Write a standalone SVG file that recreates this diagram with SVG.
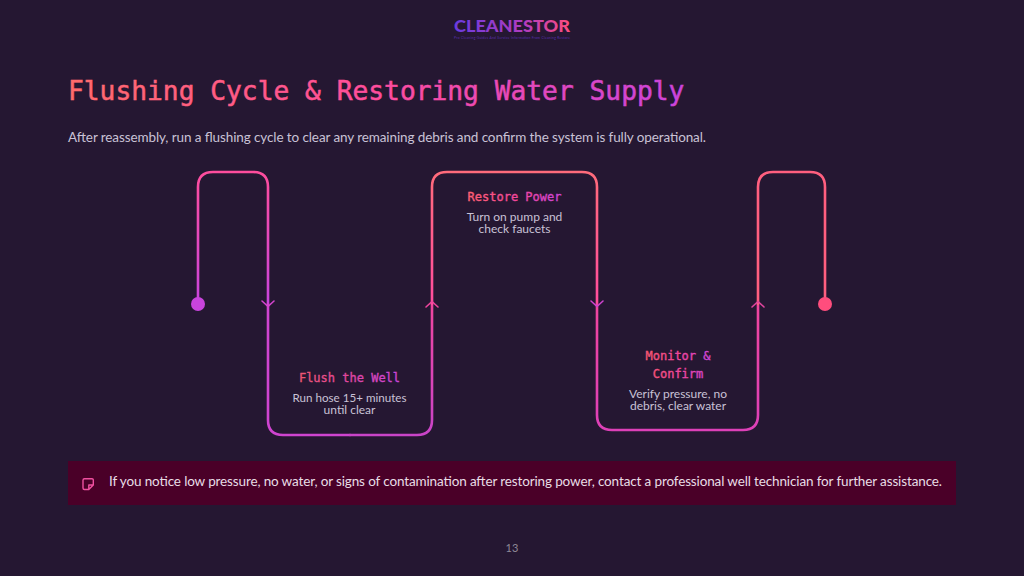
<svg xmlns="http://www.w3.org/2000/svg" width="1024" height="576" viewBox="0 0 1024 576">
<style>
.body{font-family:"Lato","Noto Sans",sans-serif;fill:#c9c2d6}
.mono{font-family:"DejaVu Sans Mono","Liberation Mono",monospace}
.lab{font-size:12px;text-anchor:middle}
.head{font-size:12px;text-anchor:middle;stroke-width:.35}
.wire{fill:none;stroke-width:2.6;stroke-linecap:round}
.tick{fill:none;stroke-width:1.6;stroke-linecap:round}
</style>
<defs>
<linearGradient id="title" gradientUnits="userSpaceOnUse" x1="68" y1="0" x2="685" y2="0"><stop offset="0" stop-color="#ff6b6b"/><stop offset=".5" stop-color="#ff4d9d"/><stop offset="1" stop-color="#c944dd"/></linearGradient>
<linearGradient id="logo" gradientUnits="userSpaceOnUse" x1="454" y1="0" x2="570" y2="0"><stop offset="0" stop-color="#6a3be0"/><stop offset=".6" stop-color="#b03cc0"/><stop offset="1" stop-color="#ff4d7d"/></linearGradient>
<linearGradient id="h1" gradientUnits="userSpaceOnUse" x1="298" y1="0" x2="400" y2="0"><stop offset="0" stop-color="#f0566f"/><stop offset=".5" stop-color="#e0459f"/><stop offset="1" stop-color="#c944dd"/></linearGradient>
<linearGradient id="h2" gradientUnits="userSpaceOnUse" x1="467" y1="0" x2="562" y2="0"><stop offset="0" stop-color="#ff6070"/><stop offset=".55" stop-color="#f0459f"/><stop offset="1" stop-color="#c944dd"/></linearGradient>
<linearGradient id="h3" gradientUnits="userSpaceOnUse" x1="645" y1="0" x2="711" y2="0"><stop offset="0" stop-color="#f5566f"/><stop offset=".55" stop-color="#f0459f"/><stop offset="1" stop-color="#c944dd"/></linearGradient>
<linearGradient id="s1" gradientUnits="userSpaceOnUse" x1="0" y1="172" x2="0" y2="304"><stop offset="0" stop-color="#ff4d9d"/><stop offset="1" stop-color="#c944dd"/></linearGradient>
<linearGradient id="s2" gradientUnits="userSpaceOnUse" x1="0" y1="304" x2="0" y2="435"><stop offset="0" stop-color="#f0459f"/><stop offset="1" stop-color="#c944c8"/></linearGradient>
<linearGradient id="s3" gradientUnits="userSpaceOnUse" x1="0" y1="172" x2="0" y2="304"><stop offset="0" stop-color="#ff6b7b"/><stop offset="1" stop-color="#ff4d9d"/></linearGradient>
<linearGradient id="s4" gradientUnits="userSpaceOnUse" x1="0" y1="304" x2="0" y2="430"><stop offset="0" stop-color="#f0459f"/><stop offset="1" stop-color="#dd40b8"/></linearGradient>
</defs>
<rect width="1024" height="576" fill="#251732"/>
<g id="logo-mark">
<text x="454" y="31.500" font-family="Lato,sans-serif" font-weight="900" font-size="17" fill="url(#logo)" textLength="116" lengthAdjust="spacingAndGlyphs">CLEANESTOR</text>
<text x="454" y="38.500" font-family="Lato,sans-serif" font-size="3.300" fill="#5a2fb0" textLength="116">Pro Cleaning Guides And Service Information From Cleaning Restore</text>
</g>
<text x="68" y="100" class="mono" font-size="26.250" fill="url(#title)" stroke="url(#title)" stroke-width=".5">Flushing Cycle &amp; Restoring Water Supply</text>
<text x="68" y="142" class="body" font-size="13.500" textLength="638">After reassembly, run a flushing cycle to clear any remaining debris and confirm the system is fully operational.</text>
<g id="connectors">
<path class="wire" stroke="url(#s1)" d="M198 304V187Q198 172 213 172H253Q268 172 268 187V304"/>
<path class="wire" stroke="#cf44d0" d="M268 304V420Q268 435 283 435H350"/>
<path class="wire" stroke="url(#s2)" d="M350 435H417Q432 435 432 420V304"/>
<path class="wire" stroke="url(#s3)" d="M432 304V187Q432 172 447 172H582Q597 172 597 187V304"/>
<path class="wire" stroke="url(#s4)" d="M597 304V415Q597 430 612 430H743Q758 430 758 415V304"/>
<path class="wire" stroke="#ff5f7f" d="M758 304V187Q758 172 773 172H810Q825 172 825 187V304"/>
<path class="tick" stroke="#d645d0" d="M262 301L268 306.500L274 301"/>
<path class="tick" stroke="#f0459f" d="M426 307L432 301.500L438 307"/>
<path class="tick" stroke="#cf44d0" d="M591 301L597 306.500L603 301"/>
<path class="tick" stroke="#e0459f" d="M752 307L758 301.500L764 307"/>
<circle cx="198" cy="304" r="7" fill="#c944dd"/>
<circle cx="825" cy="304" r="7" fill="#ff4d7d"/>
</g>
<g id="node-flush">
<text x="349.500" y="382" class="mono head" fill="url(#h1)" stroke="url(#h1)">Flush the Well</text>
<text class="body lab"><tspan x="349.500" y="402" textLength="114" lengthAdjust="spacingAndGlyphs">Run hose 15+ minutes</tspan><tspan x="349.500" y="414">until clear</tspan></text>
</g>
<g id="node-restore">
<text x="514.500" y="201" class="mono head" fill="url(#h2)" stroke="url(#h2)">Restore Power</text>
<text class="body lab"><tspan x="514.500" y="221">Turn on pump and</tspan><tspan x="514.500" y="233">check faucets</tspan></text>
</g>
<g id="node-monitor">
<text class="mono head" fill="url(#h3)" stroke="url(#h3)"><tspan x="678" y="360">Monitor &amp;</tspan><tspan x="678" y="378">Confirm</tspan></text>
<text class="body lab"><tspan x="678" y="398">Verify pressure, no</tspan><tspan x="678" y="410">debris, clear water</tspan></text>
</g>
<g id="note">
<rect x="68" y="461" width="888" height="44" fill="#4a0028"/>
<path d="M84.500 478.700H92A1.300 1.300 0 0 1 93.300 480V485L88.800 489.500H84.500A1.500 1.500 0 0 1 83 488V480.200A1.500 1.500 0 0 1 84.500 478.700ZM88.800 489.500V485H93.300" fill="none" stroke="#f050a0" stroke-width="1.400" stroke-linejoin="round"/>
<text x="109" y="486" font-family="Lato,'Noto Sans',sans-serif" font-size="13.500" fill="#e8dde6" textLength="833">If you notice low pressure, no water, or signs of contamination after restoring power, contact a professional well technician for further assistance.</text>
</g>
<text x="512" y="552" class="body" font-size="11" text-anchor="middle" style="fill:#8f8896">13</text>
</svg>
